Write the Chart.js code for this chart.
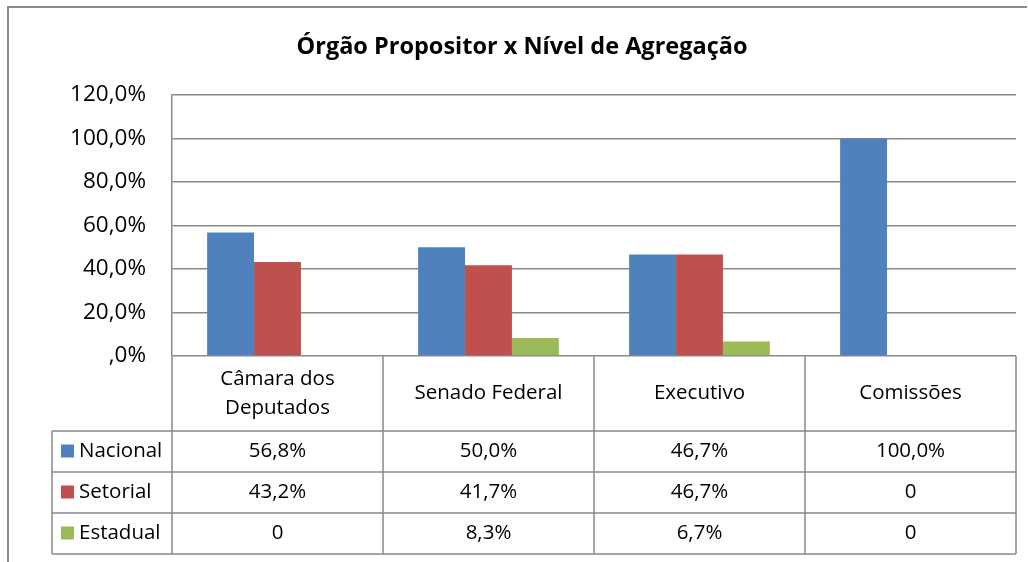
<!DOCTYPE html>
<html>
<head>
<meta charset="utf-8">
<script src="https://cdn.jsdelivr.net/npm/chart.js@4/dist/chart.umd.min.js"></script>
<style>
  html, body { margin: 0; padding: 0; background: #fff; }
  #wrap { width: 1028px; height: 562px; }
</style>
</head>
<body>
<div id="wrap"><canvas id="orgaoChart" width="1028" height="562"></canvas></div>
<script>
"use strict";

const chartTitle = 'Órgão Propositor x Nível de Agregação';
const categories = [['Câmara dos', 'Deputados'], ['Senado Federal'], ['Executivo'], ['Comissões']];
const seriesNames = ['Nacional', 'Setorial', 'Estadual'];
const nacional = [56.8, 50.0, 46.7, 100.0];
const setorial = [43.2, 41.7, 46.7, 0];
const estadual = [0, 8.3, 6.7, 0];
const tableNacional = ['56,8%', '50,0%', '46,7%', '100,0%'];
const tableSetorial = ['43,2%', '41,7%', '46,7%', '0'];
const tableEstadual = ['0', '8,3%', '6,7%', '0'];
const colors = ['#4F81BD', '#C0504D', '#9BBB59'];

const FONT = "'Open Sans', 'Noto Sans', sans-serif";
const lineGray = '#898989';

// draws the frame, the title and the data table under the plot
const tablePlugin = {
    id: 'dataTable',
    beforeDraw(chart) {
        const c = chart.ctx;
        c.save();
        c.fillStyle = '#fff';
        c.fillRect(0, 0, chart.width, chart.height);
        c.strokeStyle = '#8a8a8a';
        c.lineWidth = 2;
        c.beginPath();
        c.moveTo(8, chart.height);
        c.lineTo(8, 7);
        c.lineTo(chart.width - 1, 7);
        c.stroke();
        c.restore();
    },
    afterDraw(chart) {
        const c = chart.ctx;
        const x = chart.scales.x;
        const area = chart.chartArea;
        const colW = (area.right - area.left) / categories.length;
        const headTop = area.bottom;
        const rowTops = [431, 472, 513, 554];
        const legendLeft = 52;
        const rows = [tableNacional, tableSetorial, tableEstadual];

        c.save();
        // title
        c.fillStyle = '#000';
        c.font = "bold 23.5px " + FONT;
        c.textAlign = 'center';
        c.textBaseline = 'middle';
        c.fillText(chartTitle, 522, 47);

        // grid of the table
        c.strokeStyle = lineGray;
        c.lineWidth = 1.5;
        c.beginPath();
        for (let i = 0; i <= categories.length; i++) {
            const bx = area.left + i * colW;
            c.moveTo(bx, headTop);
            c.lineTo(bx, rowTops[3]);
        }
        rowTops.forEach(ry => {
            c.moveTo(legendLeft, ry);
            c.lineTo(area.right, ry);
        });
        c.moveTo(legendLeft, rowTops[0]);
        c.lineTo(legendLeft, rowTops[3]);
        c.stroke();

        // category headers
        c.font = "20.5px " + FONT;
        categories.forEach((lines, i) => {
            const cx = x.getPixelForValue(i);
            const mid = (headTop + rowTops[0]) / 2;
            const lh = 29;
            lines.forEach((t, k) => {
                c.fillText(t, cx, mid + (k - (lines.length - 1) / 2) * lh);
            });
        });

        // rows
        rows.forEach((vals, r) => {
            const cy = (rowTops[r] + rowTops[r + 1]) / 2;
            c.fillStyle = colors[r];
            c.fillRect(legendLeft + 9, cy - 7, 13, 13);
            c.fillStyle = '#000';
            c.textAlign = 'left';
            c.fillText(seriesNames[r], legendLeft + 27, cy);
            c.textAlign = 'center';
            vals.forEach((v, i) => c.fillText(v, x.getPixelForValue(i), cy));
        });
        c.restore();
    }
};

const ctx = document.getElementById('orgaoChart').getContext('2d');
const orgaoChart = new Chart(ctx, {
    type: 'bar',
    data: {
        labels: categories,
        datasets: [
            { label: seriesNames[0], data: nacional, backgroundColor: colors[0] },
            { label: seriesNames[1], data: setorial, backgroundColor: colors[1] },
            { label: seriesNames[2], data: estadual, backgroundColor: colors[2] }
        ]
    },
    options: {
        responsive: false,
        animation: false,
        categoryPercentage: 0.667,
        barPercentage: 1.0,
        layout: { padding: { left: 0, right: 12, top: 95, bottom: 0 } },
        plugins: {
            legend: { display: false },
            title: { display: false },
            tooltip: { enabled: false }
        },
        scales: {
            x: {
                grid: { display: false, drawTicks: false },
                border: { display: false },
                ticks: { display: false },
                afterFit(scale) { scale.height = 206; }
            },
            y: {
                min: 0,
                max: 120,
                ticks: {
                    stepSize: 20,
                    color: '#000',
                    padding: 26,
                    font: { family: FONT, size: 22.5 },
                    callback: v => (v === 0 ? '' : v) + ',0%'
                },
                grid: { color: lineGray, lineWidth: 1.5, drawTicks: false },
                border: { display: true, color: lineGray, width: 1.5 },
                afterFit(scale) { scale.width = 172; }
            }
        }
    },
    plugins: [tablePlugin]
});
</script>
</body>
</html>
